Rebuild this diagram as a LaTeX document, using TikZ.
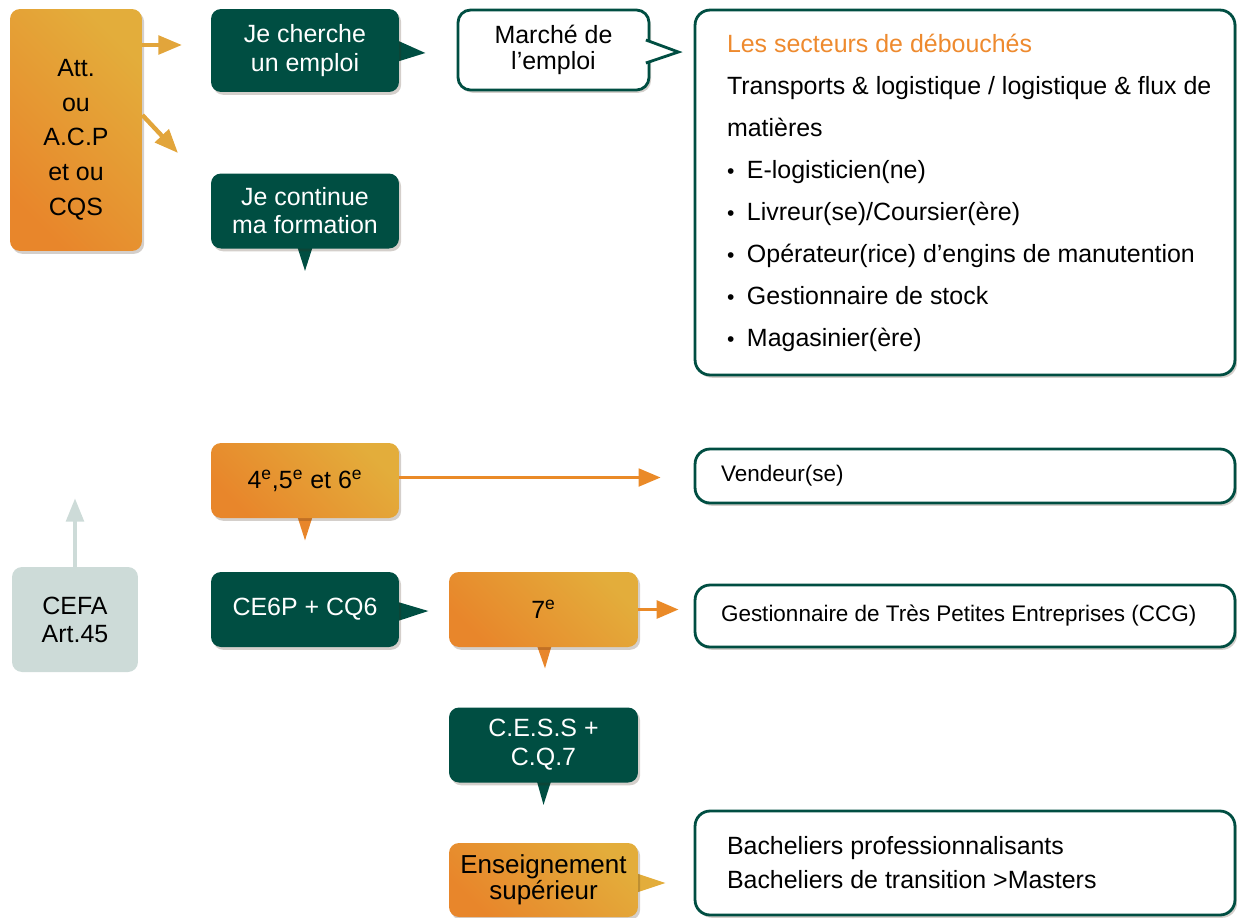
\documentclass[tikz,border=0pt]{standalone}
\usepackage{fontspec}
\setmainfont{Liberation Sans}
\usepackage{tikz}
\usetikzlibrary{arrows.meta,positioning,calc,shadows,backgrounds}
\usepackage{xcolor}
\definecolor{pine}{HTML}{004E42}
\definecolor{ambre}{HTML}{E3AD3B}
\definecolor{carrot}{HTML}{E8862B}
\definecolor{sauge}{HTML}{CDDBD8}
\definecolor{yelarr}{HTML}{E2A53B}
\definecolor{orarr}{HTML}{EA8A28}
\definecolor{titleor}{HTML}{EE8A2E}
\newcommand{\puce}{\makebox[0.4cm][l]{\fontsize{12}{12}\selectfont\textbullet}}

\begin{document}
\begin{tikzpicture}[
  x=0.02cm, y=-0.02cm,
  every node/.style={font=\fontsize{14.2}{16}\selectfont},
  boxshadow/.style={drop shadow={opacity=0.22, shadow xshift=1.2pt, shadow yshift=-1.6pt, fill=black!70!brown}},
  greenbox/.style={boxshadow, fill=pine, text=white, rounded corners=0.2cm, align=center,
    minimum width=3.76cm, minimum height=1.5cm, inner sep=2pt},
  orangebox/.style={boxshadow, top color=ambre, bottom color=carrot, shading angle=-45,
    rounded corners=0.2cm, align=center, minimum width=3.76cm, minimum height=1.5cm, inner sep=2pt},
  whitebox/.style={boxshadow, fill=white, draw=pine, line width=1.6pt, rounded corners=0.3cm,
    minimum width=10.8cm, inner sep=0pt},
  cefabox/.style={fill=sauge, rounded corners=0.2cm, align=center, minimum width=2.52cm, minimum height=2.1cm},
  boxtext/.style={anchor=west, align=left, inner sep=0pt},
  yelarrow/.style={draw=yelarr, line width=2.5pt, -{Triangle[length=13.5pt,width=10.5pt]}},
  orarrow/.style={draw=orarr, line width=1.8pt, -{Triangle[length=12.5pt,width=10pt]}},
  cefaarrow/.style={draw=sauge, line width=2.8pt, -{Triangle[length=13.5pt,width=9.8pt]}}
]
  % Frame
  \useasboundingbox (0,0) rectangle (1237,917);

  % Left column
  \node[orangebox, minimum width=2.64cm, minimum height=4.84cm, font=\fontsize{14.2}{19.8}\selectfont]
    (att) at (76,130)
    {\raisebox{-0.18cm}[\height][\depth]{\begin{tabular}{@{}c@{}}Att.\\ou\\A.C.P\\et ou\\CQS\end{tabular}}};
  \node[cefabox] (cefa) at (75,619.5) {CEFA\\Art.45};

  % Second column
  \node[greenbox, minimum height=1.66cm] (cherche) at (305,50.5) {Je cherche\\un emploi};
  \node[greenbox] (continue) at (305,211) {Je continue\\ma formation};
  \node[orangebox] (quatre) at (305,480.5)
    {4\textsuperscript{e},5\textsuperscript{e} et 6\textsuperscript{e}};
  \node[greenbox] (cesix) at (305,609.5) {CE6P + CQ6};

  % Third column
  \node[whitebox, minimum width=3.82cm, minimum height=1.6cm, rounded corners=0.25cm, align=center,
    font=\fontsize{14.2}{14.8}\selectfont] (marche) at (553.5,50) {Marché de\\l’emploi};
  \node[orangebox, minimum width=3.78cm] (sept) at (543.5,609.5) {7\textsuperscript{e}};
  \node[greenbox, minimum width=3.78cm, font=\fontsize{14.2}{16.5}\selectfont]
    (cess) at (543.5,745) {C.E.S.S +\\C.Q.7};
  \node[orangebox, minimum width=3.78cm, minimum height=1.48cm, font=\fontsize{14.8}{15}\selectfont]
    (ensup) at (543.5,880) {Enseignement\\supérieur};

  % Outcome boxes
  \node[whitebox, minimum height=7.3cm] (secteurs) at (965,192.5) {};
  \node[boxtext, font=\fontsize{14.2}{23.9}\selectfont] (secteurs-txt) at ([xshift=0.66cm]secteurs.west)
    {{\color{titleor}Les secteurs de débouchés}\\
     Transports \& logistique / logistique \& flux de\\
     matières\\
     \puce E-logisticien(ne)\\
     \puce Livreur(se)/Coursier(ère)\\
     \puce Opérateur(rice) d’engins de manutention\\
     \puce Gestionnaire de stock\\
     \puce Magasinier(ère)};
  \node[whitebox, minimum height=1.08cm] (vendeur) at (965,476) {};
  \node[boxtext, font=\fontsize{12.8}{15}\selectfont] (vendeur-txt) at ([xshift=0.54cm]vendeur.west) {Vendeur(se)};
  \node[whitebox, minimum height=1.24cm] (gestion) at (965,616) {};
  \node[boxtext, font=\fontsize{12.8}{15}\selectfont] (gestion-txt) at ([xshift=0.54cm]gestion.west)
    {Gestionnaire de Très Petites Entreprises (CCG)};
  \node[whitebox, minimum height=2.08cm] (bachelier) at (965,863) {};
  \node[boxtext, font=\fontsize{14.2}{19.4}\selectfont] (bachelier-txt) at ([xshift=0.66cm]bachelier.west)
    {Bacheliers professionnalisants\\Bacheliers de transition >Masters};

  % Speech tails
  \begin{scope}[on background layer]
    \fill[pine] ($(cherche.east)+(-3,-10.5)$) -- ($(cherche.east)+(26,2.5)$) -- ($(cherche.east)+(-3,11.5)$) -- cycle;
    \fill[pine] ($(continue.south)+(-8,-3)$) -- ($(continue.south)+(0,22)$) -- ($(continue.south)+(8,-3)$) -- cycle;
    \fill[carrot] ($(quatre.south)+(-8,-3)$) -- ($(quatre.south)+(0,22)$) -- ($(quatre.south)+(8,-3)$) -- cycle;
    \fill[pine] ($(cesix.east)+(-3,-8)$) -- ($(cesix.east)+(29,1.5)$) -- ($(cesix.east)+(-3,12)$) -- cycle;
    \fill[carrot] ($(sept.south)+(-7,-3)$) -- ($(sept.south)+(1.5,21)$) -- ($(sept.south)+(8.5,-3)$) -- cycle;
    \fill[pine] ($(cess.south)+(-7,-3)$) -- ($(cess.south)+(0,22)$) -- ($(cess.south)+(8,-3)$) -- cycle;
    \fill[ambre] ($(ensup.east)+(-3,-7)$) -- ($(ensup.east)+(27,3)$) -- ($(ensup.east)+(-3,13)$) -- cycle;
  \end{scope}
  \filldraw[fill=white, draw=pine, line width=1.6pt]
    ($(marche.east)+(-4.5,-10)$) -- ($(marche.east)+(28,2)$) -- ($(marche.east)+(-4.5,13)$);

  % Arrows
  \coordinate (cherche-in) at (182,45);
  \coordinate (continue-in) at (178,153);
  \coordinate (cefa-up) at (75,498);
  \draw[yelarrow] (att.east |- cherche-in) -- (cherche-in);
  \draw[yelarrow] ($(att.east)+(0,-15)$) -- (continue-in);
  \draw[orarrow, shorten >=0.66cm] ($(quatre.east)+(0,-3)$) -- ($(quatre.east -| vendeur.west)+(0,-3)$);
  \draw[orarrow, line width=2.2pt, shorten >=0.3cm] (sept.east) -- (sept.east -| gestion.west);
  \draw[cefaarrow] (cefa.north) -- (cefa-up);
\end{tikzpicture}
\end{document}
